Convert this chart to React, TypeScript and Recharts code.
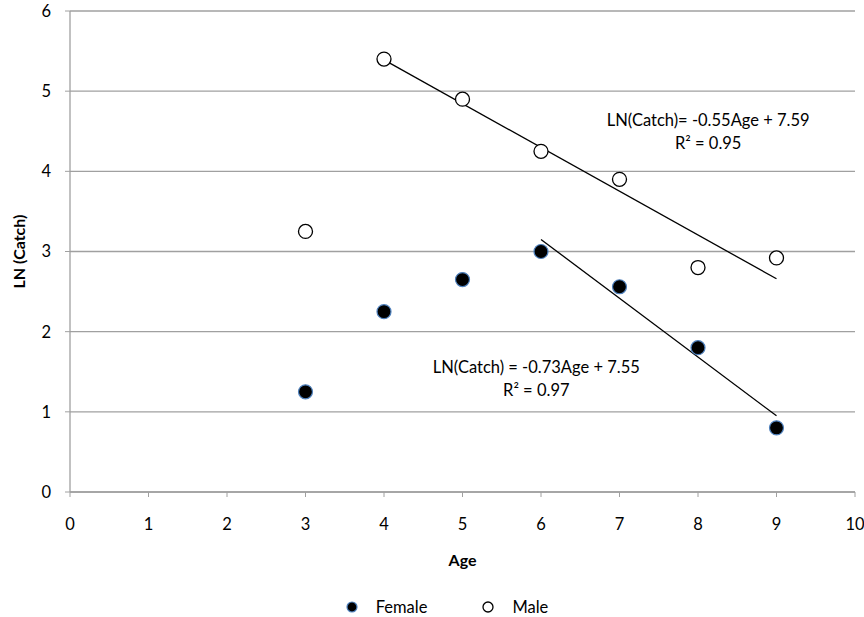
import { ScatterChart, Scatter, XAxis, YAxis, CartesianGrid, ReferenceLine, ReferenceDot, Legend, Label } from 'recharts';

const ages = [3, 4, 5, 6, 7, 8, 9];
const femaleLn = [1.25, 2.25, 2.65, 3.0, 2.56, 1.8, 0.8];
const maleLn = [3.25, 5.4, 4.9, 4.25, 3.9, 2.8, 2.92];
const xTicks = [0, 1, 2, 3, 4, 5, 6, 7, 8, 9, 10];
const yTicks = [0, 1, 2, 3, 4, 5, 6];

// trendline end points
const maleTrend = [{ x: 4, y: 5.39 }, { x: 9, y: 2.66 }];
const femaleTrend = [{ x: 6, y: 3.15 }, { x: 9, y: 0.95 }];
const maleEq = ['LN(Catch)= -0.55Age + 7.59', 'R² = 0.95'];
const femaleEq = ['LN(Catch) = -0.73Age + 7.55', 'R² = 0.97'];

const female = ages.map((age, i) => ({ age, ln: femaleLn[i] }));
const male = ages.map((age, i) => ({ age, ln: maleLn[i] }));

const FONT = 'Lato, "Open Sans", sans-serif';
const GRID = '#a0a0a0';
const FS = 16.5;

const FemaleDot = (p: any) => <circle cx={p.cx} cy={p.cy} r={7} fill="#000" stroke="#4f81bd" strokeWidth={1.2} />;
const MaleDot = (p: any) => <circle cx={p.cx} cy={p.cy} r={7} fill="#fff" stroke="#000" strokeWidth={1.3} />;

function eqText(lines: string[]) {
  return (p: any) => (
    <text x={p.cx} y={p.cy} textAnchor="middle" fontFamily={FONT} fontSize={FS} fill="#000">
      <tspan x={p.cx} dy={0}>{lines[0]}</tspan>
      <tspan x={p.cx} dy={23}>{lines[1]}</tspan>
    </text>
  );
}

function LegendBox() {
  return (
    <div style={{ display: 'flex', justifyContent: 'center', fontFamily: FONT, fontSize: FS, lineHeight: '20px', height: 20, color: '#000', paddingLeft: 38 }}>
      <div style={{ display: 'flex', alignItems: 'center', marginRight: 54 }}>
        <svg width={14} height={14} style={{ marginRight: 17 }}>
          <circle cx={7} cy={7} r={5} fill="#000" stroke="#4f81bd" strokeWidth={1.2} />
        </svg>
        Female
      </div>
      <div style={{ display: 'flex', alignItems: 'center' }}>
        <svg width={14} height={14} style={{ marginRight: 17 }}>
          <circle cx={7} cy={7} r={5} fill="#fff" stroke="#000" strokeWidth={1.3} />
        </svg>
        Male
      </div>
    </div>
  );
}

export default function App() {
  return (
    <div style={{ position: 'absolute', left: 0, top: 0, background: '#fff' }}>
      <ScatterChart width={864} height={617} margin={{ top: 11, right: 9, bottom: 0, left: 0 }}>
        <CartesianGrid horizontal vertical={false} stroke={GRID} strokeWidth={1.3} />
        <XAxis
          type="number"
          dataKey="age"
          domain={[0, 10]}
          ticks={xTicks}
          interval={0}
          height={105}
          tick={{ fontSize: FS, fill: '#000', fontFamily: FONT }}
          tickLine={{ stroke: GRID }}
          tickSize={5}
          tickMargin={21}
          axisLine={{ stroke: GRID, strokeWidth: 1.3 }}
        >
          <Label value="Age" position="insideTop" offset={63} style={{ fontSize: 16, fontWeight: 700, fill: '#000', fontFamily: FONT }} />
        </XAxis>
        <YAxis
          type="number"
          dataKey="ln"
          domain={[0, 6]}
          ticks={yTicks}
          interval={0}
          width={70}
          tick={{ fontSize: FS, fill: '#000', fontFamily: FONT }}
          tickLine={{ stroke: GRID }}
          tickSize={5}
          tickMargin={14}
          axisLine={{ stroke: GRID, strokeWidth: 1.3 }}
        >
          <Label
            content={(p: any) => {
              const vb = p.viewBox;
              const x = vb.x + 18;
              const y = vb.y + vb.height / 2;
              return (
                <text x={x} y={y} transform={`rotate(-90 ${x} ${y})`} textAnchor="middle" dominantBaseline="central"
                  fontFamily={FONT} fontSize={16} fontWeight={700} fill="#000">LN (Catch)</text>
              );
            }}
          />
        </YAxis>
        <Legend verticalAlign="bottom" height={20} content={() => <LegendBox />} />
        <ReferenceLine segment={maleTrend} stroke="#000" strokeWidth={1.3} ifOverflow="visible" />
        <ReferenceLine segment={femaleTrend} stroke="#000" strokeWidth={1.3} ifOverflow="visible" />
        <Scatter name="Female" data={female} shape={FemaleDot} isAnimationActive={false} />
        <Scatter name="Male" data={male} shape={MaleDot} isAnimationActive={false} />
        <ReferenceDot x={8.13} y={4.56} r={0} shape={eqText(maleEq)} ifOverflow="visible" />
        <ReferenceDot x={5.94} y={1.48} r={0} shape={eqText(femaleEq)} ifOverflow="visible" />
      </ScatterChart>
    </div>
  );
}
